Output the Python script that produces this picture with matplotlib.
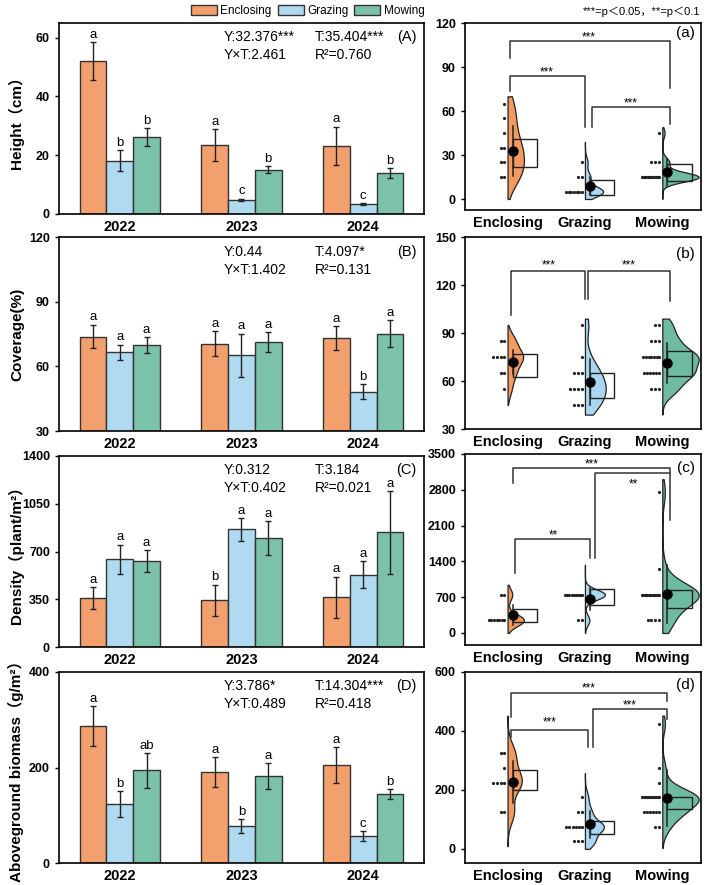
import numpy as np
import matplotlib
matplotlib.use("Agg")
import matplotlib.pyplot as plt
from matplotlib.patches import Patch, Rectangle

plt.rcParams["font.family"] = ["Liberation Sans", "Noto Sans CJK SC"]
plt.rcParams["axes.linewidth"] = 1.2

years = ["2022", "2023", "2024"]
treatments = ["Enclosing", "Grazing", "Mowing"]
bar_colors = ["#F2A06E", "#B0DAF0", "#7CC1AA"]
violin_colors = ["#F39A5E", "#A9D6F0", "#6FBB9F"]

# ---- left column: bar means / errors / letters (rows = treatment, cols = year)
height_mean = [[52.0, 23.5, 23.2], [18.2, 4.8, 3.3], [26.3, 15.1, 13.8]]
height_err = [[6.5, 5.3, 6.5], [3.6, 0.4, 0.3], [3.0, 1.1, 1.7]]
height_let = [["a", "a", "a"], ["b", "c", "c"], ["b", "b", "b"]]

cover_mean = [[73.8, 70.5, 73.0], [66.5, 65.2, 48.3], [69.9, 71.2, 75.2]]
cover_err = [[5.5, 5.7, 5.6], [3.6, 10.0, 3.4], [3.7, 4.5, 6.1]]
cover_let = [["a", "a", "a"], ["a", "a", "b"], ["a", "a", "a"]]

dens_mean = [[360, 341, 363], [643, 862, 531], [628, 799, 840]]
dens_err = [[79, 117, 153], [107, 84, 96], [80, 122, 302]]
dens_let = [["a", "b", "a"], ["a", "a", "a"], ["a", "a", "a"]]

bio_mean = [[286, 190, 205], [123, 77, 56], [194, 182, 144]]
bio_err = [[42, 31, 37.5], [27, 14.5, 10.5], [36, 27.5, 10]]
bio_let = [["a", "a", "a"], ["b", "b", "c"], ["ab", "a", "b"]]

stats_A = ["Y:32.376***", "T:35.404***", "Y×T:2.461", "R²=0.760", "(A)"]
stats_B = ["Y:0.44", "T:4.097*", "Y×T:1.402", "R²=0.131", "(B)"]
stats_C = ["Y:0.312", "T:3.184", "Y×T:0.402", "R²=0.021", "(C)"]
stats_D = ["Y:3.786*", "T:14.304***", "Y×T:0.489", "R²=0.418", "(D)"]

# ---- right column: dot rows (value, count), violin range, mean, sd, q1, q3
a_dots = [[(65, 1), (55, 1), (45, 1), (35, 2), (25, 2), (15, 2)],
          [(25, 1), (15, 2), (5, 7)],
          [(45, 1), (25, 3), (15, 16)]]
a_range = [(0, 70), (0, 39), (0, 49)]
a_mean = [32.8, 8.6, 18.1]
a_sd = [17.0, 6.2, 9.0]
a_q1 = [21.5, 2.9, 12.0]
a_q3 = [40.7, 13.1, 24.0]

b_dots = [[(85, 2), (75, 4), (65, 2), (55, 1)],
          [(95, 1), (75, 1), (65, 3), (55, 4), (45, 3)],
          [(95, 2), (85, 3), (75, 7), (65, 6), (55, 3)]]
b_range = [(45, 95), (39, 99), (39, 99)]
b_mean = [71.8, 59.5, 71.4]
b_sd = [7.3, 14.5, 12.5]
b_q1 = [62.4, 49.1, 63.0]
b_q3 = [76.6, 65.1, 78.6]

c_dots = [[(750, 2), (250, 7)],
          [(750, 9), (250, 2)],
          [(2750, 1), (1250, 1), (750, 14), (250, 4)]]
c_range = [(0, 943), (0, 1334), (0, 3008)]
c_mean = [357, 670, 762]
c_sd = [195, 212, 570]
c_q1 = [215, 540, 488]
c_q3 = [474, 860, 832]

d_dots = [[(325, 2), (275, 1), (225, 4), (125, 2)],
          [(175, 1), (125, 2), (75, 6), (25, 3)],
          [(425, 1), (275, 1), (225, 1), (175, 12), (125, 6), (75, 2)]]
d_range = [(9, 452), (0, 257), (3, 452)]
d_mean = [227, 83, 173]
d_sd = [72, 45, 95]
d_q1 = [200, 51, 134]
d_q3 = [267, 94, 176]

# brackets: x1, x2, y, left end, right end, label, label x, label y
a_brackets = [(0.03, 2.1, 107.5, 96.4, 76, "***", 1.05, 110),
              (0.03, 1.0, 83.7, 73.7, 49.3, "***", 0.51, 86.5),
              (1.09, 2.1, 62.5, 49.3, 51, "***", 1.59, 65)]
b_brackets = [(0.05, 1.0, 129, 101, 111, "***", 0.53, 132),
              (1.04, 2.1, 129, 111, 110, "***", 1.57, 132)]
c_brackets = [(0.07, 2.1, 3223, 2930, 3125, "***", 1.09, 3300),
              (1.13, 2.1, 3125, 1465, 2213, "**", 1.62, 2900),
              (0.09, 1.07, 1836, 1172, 1465, "**", 0.59, 1900)]
d_brackets = [(0.05, 2.06, 530, 447, 503, "***", 1.05, 545),
              (1.11, 2.06, 475, 344, 441, "***", 1.58, 488),
              (0.05, 1.04, 404, 378, 344, "***", 0.54, 430)]


def px_axes(fig, left, top, right, bottom):
    W, H = 709, 885
    return fig.add_axes([left / W, 1 - bottom / H, (right - left) / W, (bottom - top) / H])


def bar_panel(ax, means, errs, letters, stats, ylim, yticks, ylabel):
    x = np.arange(len(years))
    w = 0.22
    for i in range(3):
        m = np.array(means[i], float)
        e = np.array(errs[i], float)
        ax.bar(x + (i - 1) * w, m, w, yerr=e, color=bar_colors[i],
               edgecolor="#333333", linewidth=1.0, capsize=2.5,
               error_kw=dict(elinewidth=1.0, capthick=1.0, ecolor="#222222"))
        for j in range(3):
            ax.annotate(letters[i][j], (x[j] + (i - 1) * w, m[j] + e[j]),
                        xytext=(0, 1), textcoords="offset points",
                        ha="center", va="bottom", fontsize=9.5)
    ax.set_xlim(-0.5, 2.5)
    ax.set_ylim(*ylim)
    ax.set_yticks(yticks)
    ax.set_xticks(x, years, fontsize=10.5, fontweight="bold")
    ax.tick_params(axis="x", length=0, pad=4)
    ax.tick_params(axis="y", length=3, width=1, labelsize=9)
    for t in ax.get_yticklabels():
        t.set_fontweight("bold")
    ax.set_ylabel(ylabel, fontsize=11, fontweight="bold")
    ax.yaxis.set_label_coords(-0.095, 0.5)
    kw = dict(transform=ax.transAxes, fontsize=10, va="center")
    ax.text(0.45, 0.925, stats[0], **kw)
    ax.text(0.70, 0.925, stats[1], **kw)
    ax.text(0.45, 0.83, stats[2], **kw)
    ax.text(0.70, 0.83, stats[3], **kw)
    ax.text(0.98, 0.925, stats[4], ha="right", transform=ax.transAxes,
            fontsize=10.5, va="center")


def kde(samples, grid):
    s = np.asarray(samples, float)
    bw = 0.8 * s.std(ddof=1) * len(s) ** (-0.2)
    z = (grid[:, None] - s[None, :]) / bw
    return np.exp(-0.5 * z ** 2).sum(axis=1)


def rain_panel(ax, dots, ranges, means, sds, q1, q3, brackets, ylim, yticks, tag, tag_y):
    counts = [sum(c for _, c in rows) for rows in dots]
    nmax = max(counts)
    for i in range(3):
        samples = np.concatenate([np.full(c, v, float) for v, c in dots[i]])
        lo, hi = ranges[i]
        grid = np.linspace(lo, hi, 200)
        d = kde(samples, grid)
        width = 0.47 * counts[i] / nmax
        ax.fill_betweenx(grid, i, i + width * d / d.max(), facecolor=violin_colors[i],
                         edgecolor="#222222", linewidth=0.9, zorder=2)
        # box
        ax.add_patch(Rectangle((i + 0.065, q1[i]), 0.315, q3[i] - q1[i],
                               fill=False, edgecolor="#222222", linewidth=1.0, zorder=3))
        # dot rows
        for v, c in dots[i]:
            step = min(0.05, 0.24 / c)
            xs = i - 0.04 - step * np.arange(c)
            ax.plot(xs, np.full(c, v), "o", color="#222222", markersize=2.3,
                    markeredgewidth=0, zorder=3)
        ax.plot([i + 0.065, i + 0.065], [means[i] - sds[i], means[i] + sds[i]],
                color="#222222", linewidth=1.1, zorder=4)
        ax.plot(i + 0.065, means[i], "o", color="black", markersize=6.5, zorder=5)
    for x1, x2, y, e1, e2, lab, tx, ty in brackets:
        ax.plot([x1, x1, x2, x2], [e1, y, y, e2], color="#333333", linewidth=1.1, zorder=1)
        ax.text(tx, ty, lab, ha="center", va="center", fontsize=8.5)
    ax.set_xlim(-0.55, 2.5)
    ax.set_ylim(*ylim)
    ax.set_yticks(yticks)
    ax.set_xticks(range(3), treatments, fontsize=10.5, fontweight="bold")
    ax.tick_params(axis="x", length=0, pad=4)
    ax.tick_params(axis="y", length=3, width=1, labelsize=9)
    for t in ax.get_yticklabels():
        t.set_fontweight("bold")
    ax.text(0.975, tag_y, tag, transform=ax.transAxes, ha="right", va="center",
            fontsize=11)


fig = plt.figure(figsize=(7.09, 8.85), dpi=100)

axA = px_axes(fig, 59, 23, 424, 214)
bar_panel(axA, height_mean, height_err, height_let, stats_A, (0, 65), [0, 20, 40, 60],
          "Height（cm）")
axB = px_axes(fig, 59, 237, 424, 431)
bar_panel(axB, cover_mean, cover_err, cover_let, stats_B, (30, 120), [30, 60, 90, 120],
          "Coverage(%)")
axC = px_axes(fig, 59, 456, 424, 647)
bar_panel(axC, dens_mean, dens_err, dens_let, stats_C, (0, 1400), [0, 350, 700, 1050, 1400],
          "Density（plant/m²）")
axD = px_axes(fig, 59, 672, 424, 863)
bar_panel(axD, bio_mean, bio_err, bio_let, stats_D, (0, 400), [0, 200, 400],
          "Aboveground biomass（g/m²）")

axa = px_axes(fig, 465, 23, 701, 210)
rain_panel(axa, a_dots, a_range, a_mean, a_sd, a_q1, a_q3, a_brackets, (-7.5, 120),
           [0, 30, 60, 90, 120], "(a)", 0.945)
axb = px_axes(fig, 465, 237, 701, 429)
rain_panel(axb, b_dots, b_range, b_mean, b_sd, b_q1, b_q3, b_brackets, (30, 150),
           [30, 60, 90, 120, 150], "(b)", 0.914)
axc = px_axes(fig, 465, 454, 701, 645)
rain_panel(axc, c_dots, c_range, c_mean, c_sd, c_q1, c_q3, c_brackets, (-235, 3500),
           [0, 700, 1400, 2100, 2800, 3500], "(c)", 0.925)
axd = px_axes(fig, 465, 672, 701, 863)
rain_panel(axd, d_dots, d_range, d_mean, d_sd, d_q1, d_q3, d_brackets, (-48, 600),
           [0, 200, 400, 600], "(d)", 0.932)

handles = [Patch(facecolor=c, edgecolor="#333333", label=t) for c, t in zip(bar_colors, treatments)]
fig.legend(handles=handles, loc="center", bbox_to_anchor=(0.434, 0.988), ncol=3,
           frameon=False, fontsize=8.5, handlelength=2.2, handleheight=0.95,
           columnspacing=0.5, handletextpad=0.3, borderpad=0)
fig.text(700 / 709, 1 - 12 / 885, "***=p＜0.05，**=p＜0.1", ha="right", va="center",
         fontsize=8)

fig.savefig("out.png", dpi=100)
